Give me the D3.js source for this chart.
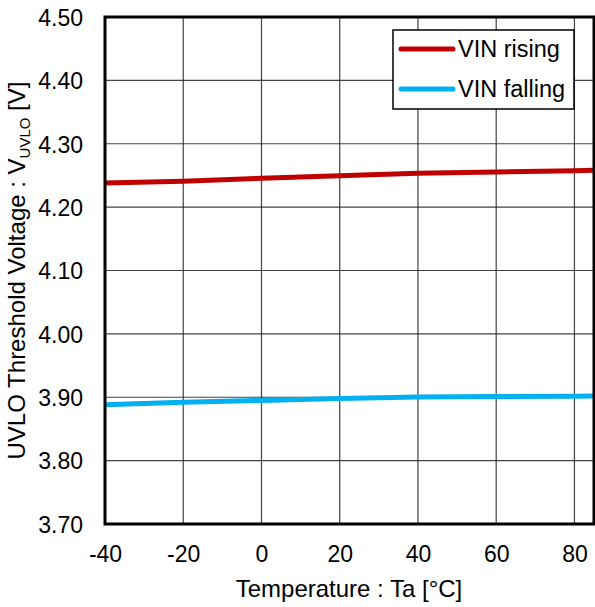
<!DOCTYPE html>
<html>
<head>
<meta charset="utf-8">
<script src="https://cdn.jsdelivr.net/npm/d3@7"></script>
<style>
  html, body { margin: 0; padding: 0; background: #fff; }
  svg { display: block; font-family: "Liberation Sans", Arial, sans-serif; }
</style>
</head>
<body>
<svg id="chart" width="595" height="607"></svg>
<script>
// Temperature points (°C)
const temperatures = [-40, -20, 0, 20, 40, 60, 80, 85];
// UVLO threshold voltage (V)
const vinRising  = [4.238, 4.241, 4.2455, 4.2495, 4.2535, 4.2555, 4.2575, 4.258];
const vinFalling = [3.888, 3.892, 3.895, 3.898, 3.9005, 3.901, 3.9015, 3.902];
const seriesNames = ["VIN rising", "VIN falling"];
const seriesColors = ["#c00000", "#00b0f0"];
const xTicks = [-40, -20, 0, 20, 40, 60, 80];
const yTicks = [3.70, 3.80, 3.90, 4.00, 4.10, 4.20, 4.30, 4.40, 4.50];

const FONT = "'Liberation Sans', Arial, sans-serif";
const svg = d3.select("#chart");
const m = { left: 105, right: 594, top: 17, bottom: 524 };

const x = d3.scaleLinear().domain([-40, 85]).range([m.left, m.right]);
const y = d3.scaleLinear().domain([3.70, 4.50]).range([m.bottom, m.top]);

// grid
const grid = svg.append("g");
grid.selectAll(".gx").data(xTicks.slice(1)).join("line")
  .attr("x1", d => x(d)).attr("x2", d => x(d))
  .attr("y1", m.top).attr("y2", m.bottom)
  .attr("stroke", "#222").attr("stroke-width", 1.2).attr("opacity", 0.85);
grid.selectAll(".gy").data(yTicks.slice(1, -1)).join("line")
  .attr("x1", m.left).attr("x2", m.right)
  .attr("y1", d => y(d)).attr("y2", d => y(d))
  .attr("stroke", "#222").attr("stroke-width", 1.2).attr("opacity", 0.85);

// axes (labels only)
const xAxis = d3.axisBottom(x).tickValues(xTicks).tickSize(0).tickPadding(0)
  .tickFormat(d => String(d));
svg.append("g").attr("transform", `translate(0,${m.bottom})`).call(xAxis)
  .call(g => g.select(".domain").remove())
  .selectAll("text").attr("font-size", 23).attr("fill", "#000")
  .attr("font-family", FONT).attr("dy", null).attr("y", 38);

const yAxis = d3.axisLeft(y).tickValues(yTicks).tickSize(0).tickPadding(22)
  .tickFormat(d3.format(".2f"));
svg.append("g").attr("transform", `translate(${m.left},0)`).call(yAxis)
  .call(g => g.select(".domain").remove())
  .selectAll("text").attr("font-size", 23).attr("fill", "#000")
  .attr("font-family", FONT).attr("dy", "0.36em");

// data lines
const line = d3.line().x((d, i) => x(temperatures[i])).y(d => y(d));
[vinRising, vinFalling].forEach((s, k) => {
  svg.append("path").datum(s).attr("d", line)
    .attr("fill", "none").attr("stroke", seriesColors[k])
    .attr("stroke-width", 5);
});

// plot frame
svg.append("rect")
  .attr("x", m.left).attr("y", m.top)
  .attr("width", m.right - m.left).attr("height", m.bottom - m.top)
  .attr("fill", "none").attr("stroke", "#000").attr("stroke-width", 3);

// legend
const lg = svg.append("g");
lg.append("rect").attr("x", 393).attr("y", 30).attr("width", 181).attr("height", 79)
  .attr("fill", "#fff").attr("stroke", "#000").attr("stroke-width", 1.5);
seriesNames.forEach((name, k) => {
  const cy = 49 + k * 40;
  lg.append("line").attr("x1", 401).attr("x2", 453).attr("y1", cy).attr("y2", cy)
    .attr("stroke", seriesColors[k]).attr("stroke-width", 5).attr("stroke-linecap", "round");
  lg.append("text").attr("x", 458).attr("y", cy + 8).attr("font-size", 23.5)
    .attr("font-family", FONT).attr("fill", "#000").text(name);
});

// axis titles
svg.append("text").attr("x", 349).attr("y", 597).attr("text-anchor", "middle")
  .attr("font-size", 24).attr("font-family", FONT).attr("fill", "#000")
  .text("Temperature : Ta [°C]");

const yt = svg.append("text")
  .attr("transform", `translate(25,${(m.top + m.bottom) / 2}) rotate(-90)`)
  .attr("text-anchor", "middle").attr("font-size", 24)
  .attr("font-family", FONT).attr("fill", "#000");
yt.append("tspan").text("UVLO Threshold Voltage : V");
yt.append("tspan").attr("font-size", 15).attr("dy", 5).text("UVLO");
yt.append("tspan").attr("dy", -5).text(" [V]");
</script>
</body>
</html>
